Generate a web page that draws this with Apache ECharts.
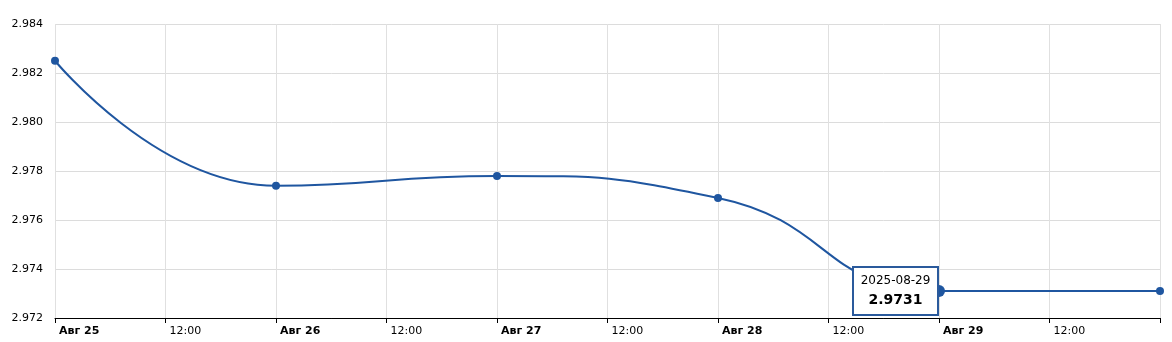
<!DOCTYPE html>
<html><head><meta charset="utf-8">
<script src="https://cdn.jsdelivr.net/npm/echarts@6/dist/echarts.min.js"></script>
<style>html,body{margin:0;padding:0;background:#fff}#c{width:1172px;height:342px}</style>
</head><body><div id="c"></div>
<script>
const dates = ['2025-08-25','2025-08-26','2025-08-27','2025-08-28','2025-08-29','2025-08-30'];
const values = [2.9825, 2.9774, 2.9778, 2.9769, 2.9731, 2.9731];
const months = ['Янв','Фев','Мар','Апр','Май','Июн','Июл','Авг','Сен','Окт','Ноя','Дек'];
const yTicks = {min: 2.972, max: 2.984, step: 0.002};
const highlightIndex = 4;
const refLine = 2.9731;

function ts(d){const p=d.split('-').map(Number);return Date.UTC(p[0],p[1]-1,p[2]);}
const xMin = ts(dates[0]), xMax = ts(dates[dates.length-1]);
const H12 = 12*3600*1000;

const data = dates.map((d,i)=>{
  const item = {value:[ts(d), values[i]]};
  if(i===highlightIndex){
    item.symbolSize = 12;
    item.label = {
      show:true, position:'left', distance:-4,
      formatter: '{a|' + d + '}\n{b|' + values[i].toFixed(4) + '}',
      backgroundColor:'#fff', borderColor:'#2a5a9c', borderWidth:2,
      padding:[4,6,4,6], width:71,
      rich:{
        a:{fontSize:12, lineHeight:18, fontFamily:'DejaVu Sans', color:'#000', align:'center', width:71},
        b:{fontWeight:'bold', fontSize:14, lineHeight:20, fontFamily:'DejaVu Sans', color:'#000', align:'center', width:71}
      }
    };
  }
  return item;
});

const chart = echarts.init(document.getElementById('c'), null, {renderer:'canvas'});
chart.setOption({
  animation:false,
  grid:{left:55, right:12, top:24, bottom:24},
  xAxis:{
    type:'value', min:xMin, max:xMax, interval:H12,
    axisLine:{show:true, onZero:false, lineStyle:{color:'#000', width:1}},
    axisTick:{show:true, length:5, lineStyle:{color:'#000'}},
    splitLine:{show:true, lineStyle:{color:'#e0e0e0'}},
    axisLabel:{
      fontFamily:'DejaVu Sans', fontSize:11, color:'#000', align:'left', margin:8, padding:[0,0,0,4],
      formatter:function(v){
        if(v>=xMax) return '';
        const d=new Date(v);
        if(d.getUTCHours()===0) return '{b|'+months[d.getUTCMonth()]+' '+d.getUTCDate()+'}';
        return String(d.getUTCHours()).padStart(2,'0')+':00';
      },
      rich:{b:{fontWeight:'bold', fontFamily:'DejaVu Sans', fontSize:11, color:'#000'}}
    }
  },
  yAxis:{
    type:'value', min:yTicks.min, max:yTicks.max, interval:yTicks.step,
    axisLine:{show:false}, axisTick:{show:false},
    splitLine:{show:true, lineStyle:{color:'#dcdcdc'}},
    axisLabel:{fontFamily:'DejaVu Sans', fontSize:11, color:'#000', margin:12,
      formatter:v=>v.toFixed(3)}
  },
  series:[{
    type:'line', data:data, smooth:0.5,
    symbol:'circle', symbolSize:8,
    lineStyle:{color:'#1f56a0', width:2},
    itemStyle:{color:'#1f56a0'},
    markLine:{silent:true, symbol:'none', label:{show:false},
      lineStyle:{color:'#c98a8a', width:1, type:'solid'},
      data:[{yAxis:refLine}]}
  }]
});
</script></body></html>
